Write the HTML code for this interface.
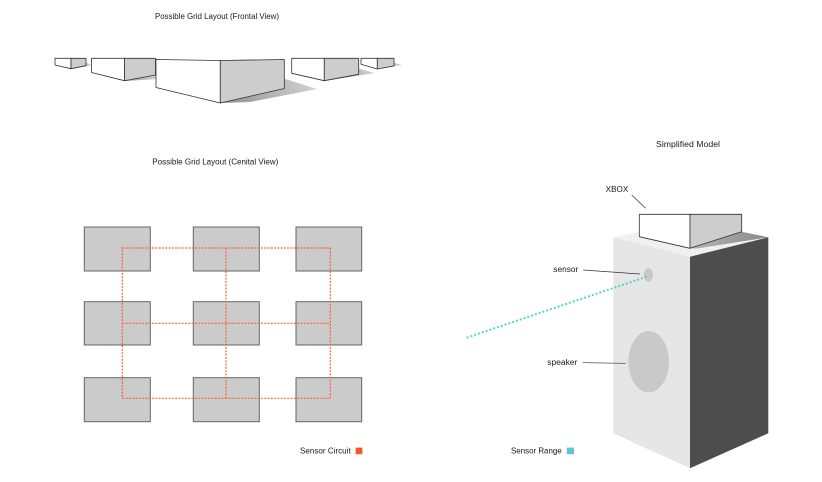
<!DOCTYPE html>
<html>
<head>
<meta charset="utf-8">
<style>
  html, body { margin:0; padding:0; background:#fff; }
  svg { display:block; }
  text { font-family: "Liberation Sans", Arial, sans-serif; font-size:8px; fill:#1a1a1a; }
</style>
</head>
<body>
<svg width="822" height="482" viewBox="0 0 822 482" xmlns="http://www.w3.org/2000/svg">
  <defs>
    <linearGradient id="sh" x1="0" y1="0" x2="1" y2="0">
      <stop offset="0" stop-color="#8e8e8e"/>
      <stop offset="1" stop-color="#d4d4d4"/>
    </linearGradient>
    <linearGradient id="topsh" x1="0" y1="0" x2="1" y2="0">
      <stop offset="0" stop-color="#b5b5b5"/>
      <stop offset="1" stop-color="#8a8a8a"/>
    </linearGradient>
  </defs>

  <!-- Titles -->
  <text x="155" y="19" textLength="124" lengthAdjust="spacingAndGlyphs">Possible Grid Layout (Frontal View)</text>
  <text x="152.3" y="164.5" textLength="126" lengthAdjust="spacingAndGlyphs">Possible Grid Layout (Cenital View)</text>
  <text x="656" y="147" textLength="64" lengthAdjust="spacingAndGlyphs">Simplified Model</text>

  <!-- Frontal view shadows -->
  <polygon points="84,62 92,65 71,69" fill="url(#sh)"/>
  <polygon points="150,71 158,72 158,79 124,81" fill="url(#sh)"/>
  <polygon points="282,78 317,89 250,102 221,103" fill="url(#sh)"/>
  <polygon points="356,68 375,73 324,81" fill="url(#sh)"/>
  <polygon points="392,62 402,65 377,69" fill="url(#sh)"/>

  <g stroke="#333" stroke-width="0.8" stroke-linejoin="round">
    <!-- B1 -->
    <polygon points="55,58.3 71,58.3 71,68.7 55,65" fill="#fff"/>
    <polygon points="71,58.3 86,58.3 86,65.7 71,68.7" fill="#cdcdcd"/>
    <!-- B2 -->
    <polygon points="91.5,58.3 124.5,58.3 124.5,80.7 91.5,72.5" fill="#fff"/>
    <polygon points="124.5,58.3 155.5,58.3 155.5,75 124.5,80.7" fill="#cdcdcd"/>
    <!-- B3 -->
    <polygon points="156,59.5 220.3,60.5 220.3,103 156,87.5" fill="#fff"/>
    <polygon points="220.3,60.5 284.3,59.5 284.3,88.5 220.3,103" fill="#cdcdcd"/>
    <!-- B4 -->
    <polygon points="291.7,58.3 324.3,58.3 324.3,80.7 291.7,73.3" fill="#fff"/>
    <polygon points="324.3,58.3 358.7,58.3 358.7,74.3 324.3,80.7" fill="#cdcdcd"/>
    <!-- B5 -->
    <polygon points="361,58.3 377.3,58.3 377.3,69 361,64.3" fill="#fff"/>
    <polygon points="377.3,58.3 394,58.3 394,66 377.3,69" fill="#cdcdcd"/>
  </g>

  <!-- Cenital grid -->
  <g fill="#cbcbcb" stroke="#666" stroke-width="1">
    <rect x="84.3" y="227" width="66" height="44"/>
    <rect x="193.3" y="227" width="66" height="44"/>
    <rect x="296" y="227" width="65.7" height="44"/>
    <rect x="84.3" y="301.7" width="66" height="43.3"/>
    <rect x="193.3" y="301.7" width="66" height="43.3"/>
    <rect x="296" y="301.7" width="65.7" height="43.3"/>
    <rect x="84.3" y="377.7" width="66" height="44"/>
    <rect x="193.3" y="377.7" width="66" height="44"/>
    <rect x="296" y="377.7" width="65.7" height="44"/>
  </g>
  <g fill="none" stroke="#f2683a" stroke-width="1.2" stroke-dasharray="2 1.3">
    <rect x="122.3" y="248" width="208" height="150.3"/>
    <line x1="226" y1="248" x2="226" y2="398.3"/>
    <line x1="122.3" y1="323.3" x2="330.3" y2="323.3"/>
  </g>

  <!-- Legends -->
  <text x="300" y="453.6" textLength="50.7" lengthAdjust="spacingAndGlyphs">Sensor Circuit</text>
  <rect x="355.6" y="447.6" width="6.8" height="6.6" fill="#f05a28"/>
  <text x="511" y="453.6" textLength="50.7" lengthAdjust="spacingAndGlyphs">Sensor Range</text>
  <rect x="566.8" y="447.6" width="7.2" height="6.6" fill="#5ec7cf"/>

  <!-- Tower -->
  <polygon points="613.3,237.3 690,222 768.3,237.3 690,256.7" fill="#f0f0f0"/>
  <polygon points="613.3,237.3 690,256.7 690,468.3 613.3,433.3" fill="#e6e6e6"/>
  <polygon points="690,256.7 768.3,237.3 768.3,433.3 690,468.3" fill="#4d4d4d"/>
  <polygon points="690,248.3 741.7,231.7 768.3,237.3 697,248.5" fill="url(#topsh)"/>

  <!-- XBOX -->
  <g stroke="#333" stroke-width="0.8" stroke-linejoin="round">
    <polygon points="639.3,214.3 690,214.3 690,248.3 639.3,236.7" fill="#fff"/>
    <polygon points="690,214.3 741.7,214.3 741.7,231.7 690,248.3" fill="#cdcdcd"/>
  </g>

  <!-- Sensor & speaker -->
  <ellipse cx="648.3" cy="275" rx="4.7" ry="6.7" fill="#c8c8c8"/>
  <ellipse cx="648.7" cy="361.7" rx="20.3" ry="30.7" fill="#c9c9c9"/>
  <line x1="466.7" y1="337.7" x2="646.7" y2="276.7" stroke="#5ccfd2" stroke-width="2" stroke-dasharray="2 2"/>

  <!-- Labels & leaders -->
  <text x="605.7" y="192.2" textLength="22.6" lengthAdjust="spacingAndGlyphs">XBOX</text>
  <line x1="631.7" y1="195" x2="645.7" y2="208.3" stroke="#333" stroke-width="0.7"/>
  <text x="553.3" y="272" textLength="25" lengthAdjust="spacingAndGlyphs">sensor</text>
  <line x1="583.3" y1="270" x2="640" y2="274" stroke="#333" stroke-width="0.7"/>
  <text x="547.3" y="365" textLength="30" lengthAdjust="spacingAndGlyphs">speaker</text>
  <line x1="582.7" y1="362.7" x2="625.7" y2="363.3" stroke="#333" stroke-width="0.7"/>
</svg>
</body>
</html>
